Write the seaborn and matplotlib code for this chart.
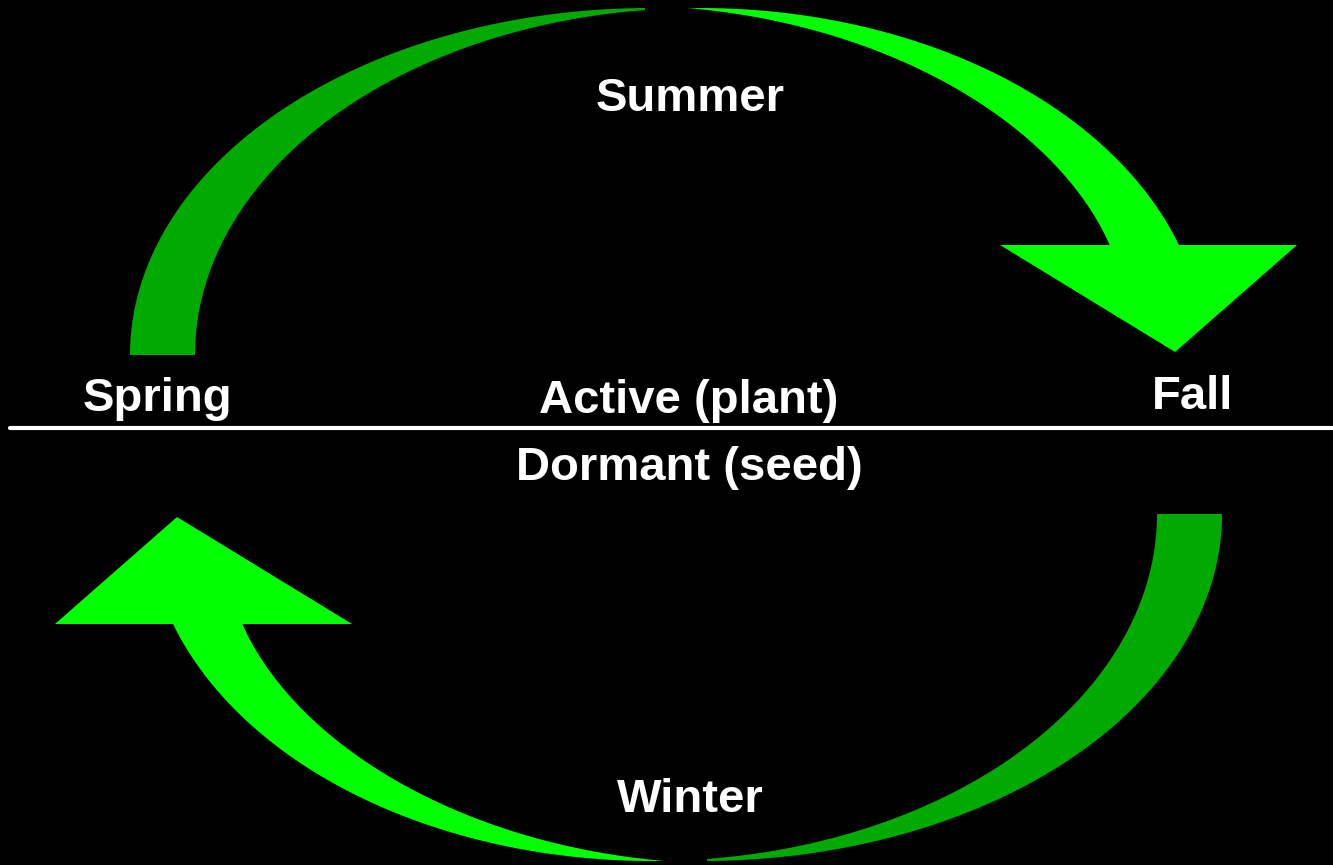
import matplotlib
matplotlib.use('Agg')
import matplotlib.pyplot as plt
import seaborn as sns
import numpy as np

# labels
season_labels = ["Summer", "Fall", "Winter", "Spring"]
state_labels = ["Active (plant)", "Dormant (seed)"]

# label anchor points (pixel coords, y down) - baseline positions
season_pos = [(690, 111), (1193, 409), (690, 812), (157, 411)]
state_pos = [(689, 413), (689, 480)]

W, H = 1333, 865
DARK = "#00aa00"
BRIGHT = "#00ff00"


def ell(cx, cy, a, b, phi):
    r = np.radians(phi)
    return cx + a * np.cos(r), cy - b * np.sin(r)


def top_arrow():
    # back part (dark): between outer ellipse E1 and inner ellipse E2
    e1 = (650, 355, 520, 347)
    e2 = (700, 355, 505, 347)
    x_cut = 645
    p1 = np.degrees(np.arccos((x_cut - e1[0]) / e1[2]))
    p2 = np.degrees(np.arccos((x_cut - e2[0]) / e2[2]))
    ox, oy = ell(*e1, np.linspace(180, p1, 300))
    ix, iy = ell(*e2, np.linspace(p2, 180, 300))
    back = (np.r_[ox, ix], np.r_[oy, iy])

    # front part (bright): outer E2, inner tapers linearly
    phi_end = np.degrees(np.arccos((688 - e2[0]) / e2[2]))
    phi = np.linspace(0, phi_end, 500)
    fx, fy = ell(*e2, phi)
    r = np.radians(phi)
    nx, ny = e2[3] * np.cos(r), -e2[2] * np.sin(r)
    nn = np.hypot(nx, ny)
    w = np.clip(0.9 * (phi_end - phi), 0, 64)
    gx, gy = fx - w * nx / nn, fy - w * ny / nn
    ko = fy <= 250
    ki = gy <= 250
    front = (np.r_[fx[ko], gx[ki][::-1]], np.r_[fy[ko], gy[ki][::-1]])

    head = (np.array([1000, 1297, 1175]), np.array([245, 245, 352]))
    return back, front, head


def rotate(xy):
    # bottom arrow is the top one turned half way round
    return 1352 - xy[0], 869 - xy[1]


sns.set_theme(style="white")
plt.rcParams['font.family'] = ['Liberation Sans', 'DejaVu Sans']

fig = plt.figure(figsize=(W / 100, H / 100), dpi=100, facecolor="black")
ax = fig.add_axes([0, 0, 1, 1])
ax.set_facecolor("black")
ax.set_xlim(0, W)
ax.set_ylim(H, 0)
ax.axis("off")

back, front, head = top_arrow()
for part, col in [(back, DARK), (front, BRIGHT), (head, BRIGHT)]:
    ax.fill(*part, color=col, lw=0)
    ax.fill(*rotate(part), color=col, lw=0)

# divider
sns.lineplot(x=[10, W], y=[428, 428], color="white", linewidth=3, ax=ax)

for lab, (x, y) in zip(season_labels + state_labels, season_pos + state_pos):
    ax.text(x, y, lab, color="white", fontsize=34, fontweight="bold",
            ha="center", va="baseline")

fig.savefig("out.png", dpi=100, facecolor="black")
